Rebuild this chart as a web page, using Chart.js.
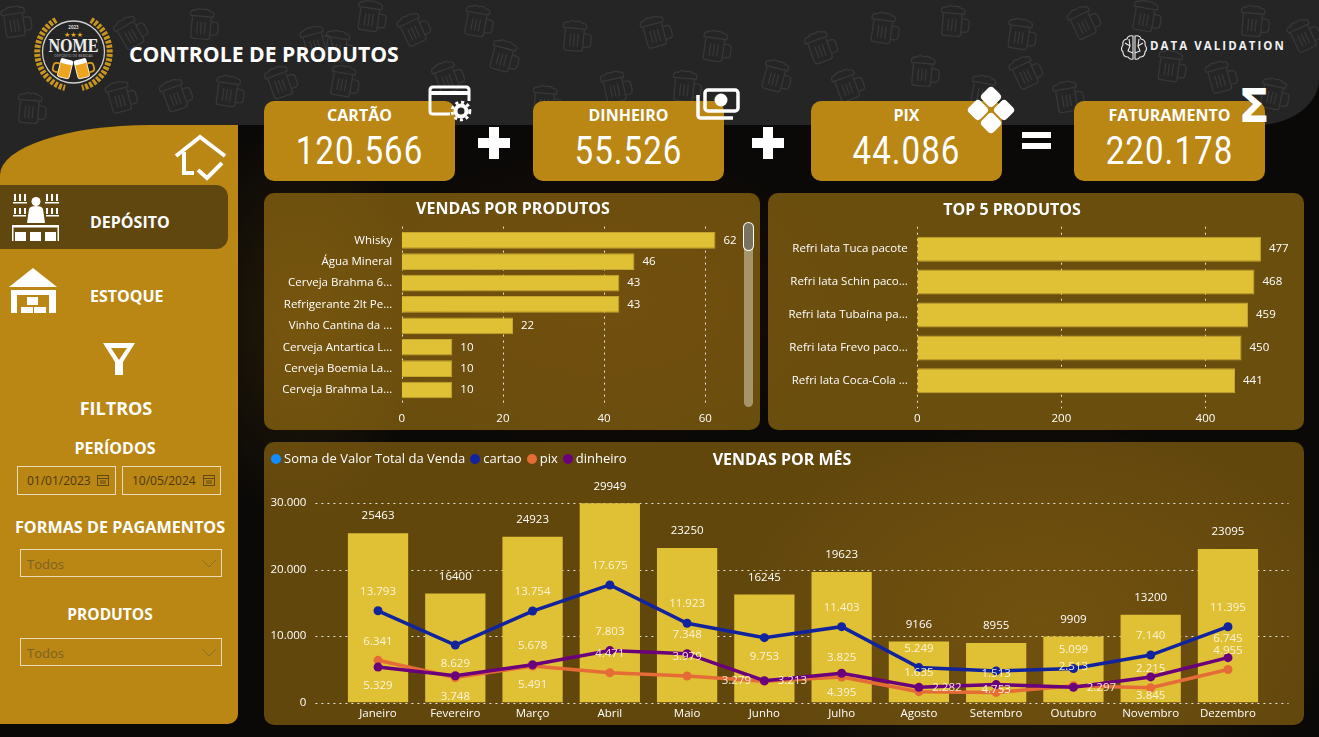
<!DOCTYPE html>
<html lang="pt-BR">
<head>
<meta charset="utf-8">
<title>Controle de Produtos</title>
<script src="https://cdn.jsdelivr.net/npm/chart.js@4"></script>
<style>
html, body { margin: 0; padding: 0; }
body {
    width: 1319px; height: 737px; overflow: hidden; position: relative;
    font-family: 'Open Sans', sans-serif; color: #fff;
    background:
        radial-gradient(ellipse 120px 200px at 300px 320px, #241a08 0%, rgba(36,26,8,0) 100%),
        radial-gradient(ellipse 260px 150px at 600px 300px, #1c0d08 0%, rgba(28,13,8,0) 100%),
        radial-gradient(ellipse 300px 200px at 1040px 620px, #2b1e0a 0%, rgba(43,30,10,0) 100%),
        #0b0907;
}
.abs { position: absolute; }
#header { left: 0; top: 0; width: 1319px; height: 125px; background: #252525; border-bottom-right-radius: 62px 46px; }
#headerLeft { left: 0; top: 125px; width: 238px; height: 60px; background: #252525; }
#mugs { left: 0; top: 0; }
#sidebar { left: 0; top: 125px; width: 238px; height: 599px; background: #ba8614; border-top-left-radius: 150px 50px; border-bottom-right-radius: 10px; }
#active { left: 0; top: 185px; width: 228px; height: 64px; background: #60460f; border-radius: 0 12px 12px 0; }
.kpi { top: 101px; width: 191px; height: 80px; background: #ba8614; border-radius: 10px; text-align: center; }
.kpi b { display: block; font-size: 16px; line-height: 20px; margin-top: 4px; }
.kpi span { display: block; font-family: Roboto, sans-serif; font-size: 38px; line-height: 42px; letter-spacing: 1.2px; margin-top: 5px; transform: scaleX(0.87); }
.panel { background: rgba(186,134,20,0.5); border-radius: 10px; }
.panel.upper { background: rgba(186,134,20,0.55); }
.ttl { font-weight: 700; font-size: 16px; line-height: 20px; white-space: nowrap; transform: translateX(-50%); }
.side { font-weight: 700; white-space: nowrap; line-height: 20px; }
.ctr { transform: translateX(-50%); }
.field { box-sizing: border-box; border: 1px solid #e9dcb8; height: 29px; }
.field span { position: absolute; top: 6px; font-size: 12px; line-height: 16px; color: #4c3a0c; white-space: nowrap; }
.field.dd { height: 28px; }
.field.dd span { color: #7c6125; font-size: 13px; top: 6px; left: 6px; }
.field svg { position: absolute; }
canvas { position: absolute; }
#legend { left: 271px; top: 449px; display: flex; font-size: 13px; line-height: 18px; white-space: nowrap; }
#legend i { display: inline-block; width: 10px; height: 10px; border-radius: 50%; margin-right: 3px; vertical-align: -0.5px; }
#legend div { margin-right: 5px; }
#scrollTrack { left: 744px; top: 223px; width: 9px; height: 184px; border-radius: 5px; background: rgba(205,195,170,0.6); }
#scrollThumb { left: 744px; top: 223px; width: 9px; height: 27px; border-radius: 5px; background: #7a715e; box-shadow: 0 0 0 1px #fff; }
#dv { left: 1150px; top: 38px; font-size: 11.5px; font-weight: 700; letter-spacing: 2.05px; line-height: 16px; white-space: nowrap; color: #f0f0f0; }
</style>
</head>
<body>
<div class="abs" id="header"></div>
<div class="abs" id="headerLeft"></div>
<svg class="abs" id="mugs" width="1319" height="180">
    <defs>
        <symbol id="mug" viewBox="0 0 36 36" overflow="visible">
            <g fill="none" stroke="#373737" stroke-width="1.4">
                <path d="M5 10v20q0 3 3 3h14q3 0 3-3V10"/>
                <path d="M25 14h4q4 0 4 4v6q0 4-4 4h-4"/>
                <path d="M3 9q-2-6 5-6 3-3 7-1 5-2 8 1 6 0 4 6z"/>
                <path d="M11 15v13M15 15v13M19 15v13"/>
            </g>
        </symbol>
    </defs>
    <g id="mugSpots"></g>
</svg>
<div class="abs" id="sidebar"></div>
<div class="abs" id="active"></div>

<!-- logo -->
<svg class="abs" style="left:25px;top:14px" width="95" height="85" viewBox="0 0 95 85">
    <g fill="none" stroke="#c8961e" stroke-width="6" stroke-dasharray="3 1.5">
        <path d="M31 6A37 37 0 0 0 40 74"/>
        <path d="M66 6A37 37 0 0 1 57 74"/>
    </g>
    <circle cx="48.5" cy="38" r="31" fill="#252525" stroke="#cfcfcf" stroke-width="1.3"/>
    <text x="48.5" y="14.5" font-size="4.5" font-weight="700" fill="#ddd" text-anchor="middle" font-family="Open Sans">2023</text>
    <text x="48.5" y="23" font-size="7" fill="#e0a81e" text-anchor="middle" font-family="DejaVu Sans">★★★</text>
    <text x="48.5" y="38" font-size="18" font-weight="700" fill="#ececec" text-anchor="middle" font-family="Liberation Serif" textLength="50" lengthAdjust="spacingAndGlyphs">NOME</text>
    <text x="48.5" y="43" font-size="3.6" fill="#aaa" text-anchor="middle" font-family="Open Sans">DEPÓSITO DE BEBIDAS</text>
    <g transform="rotate(14 40 55)"><rect x="34" y="47" width="12" height="17" rx="2" fill="#eda41e" stroke="#fff" stroke-width=".8"/><rect x="33.5" y="45" width="13" height="5" rx="2" fill="#fff"/><path d="M34 51h-3q-3 0-3 3v3q0 3 3 3h3" fill="none" stroke="#d89a1e" stroke-width="1.8"/></g>
    <g transform="rotate(-14 57 55)"><rect x="51" y="47" width="12" height="17" rx="2" fill="#eda41e" stroke="#fff" stroke-width=".8"/><rect x="50.5" y="45" width="13" height="5" rx="2" fill="#fff"/><path d="M63 51h3q3 0 3 3v3q0 3-3 3h-3" fill="none" stroke="#d89a1e" stroke-width="1.8"/></g>
</svg>
<div class="abs" style="left:129px;top:39px;font-size:21.2px;font-weight:700;line-height:30px;white-space:nowrap">CONTROLE DE PRODUTOS</div>

<!-- data validation -->
<svg class="abs" style="left:1120px;top:34px" width="28" height="28" viewBox="0 0 28 28" fill="none" stroke="#eee" stroke-width="1.1">
    <path d="M13 2q-5-1-6 3-5 1-4 6-3 4 0 7 0 5 5 5 2 3 5 2zM15 2q5-1 6 3 5 1 4 6 3 4 0 7 0 5-5 5-2 3-5 2z"/>
    <path d="M5 9l5 3-2 5 5 2M9 5l1 7M23 9l-5 3 2 5-5 2M19 5l-1 7"/>
</svg>
<div class="abs" id="dv">DATA VALIDATION</div>

<!-- kpi -->
<div class="abs kpi" style="left:264px"><b>CARTÃO</b><span>120.566</span></div>
<div class="abs kpi" style="left:533px"><b>DINHEIRO</b><span>55.526</span></div>
<div class="abs kpi" style="left:811px"><b>PIX</b><span>44.086</span></div>
<div class="abs kpi" style="left:1074px"><b>FATURAMENTO</b><span>220.178</span></div>
<svg class="abs" style="left:0;top:0" width="1319" height="190" fill="#fff">
    <path d="M489 127h10v11h11v10h-11v11h-10v-11h-11v-10h11z"/>
    <path d="M763 127h10v11h11v10h-11v11h-10v-11h-11v-10h11z"/>
    <rect x="1022" y="132" width="29" height="6"/><rect x="1022" y="143" width="29" height="6"/>
    <!-- card with gear -->
    <path d="M450 114h-17q-3 0-3-3V90q0-3 3-3h33q3 0 3 3v11" fill="none" stroke="#fff" stroke-width="3"/>
    <rect x="431" y="91" width="37" height="4"/>
    <circle cx="461" cy="111" r="5.5" fill="none" stroke="#fff" stroke-width="4"/>
    <circle cx="461" cy="111" r="8.8" fill="none" stroke="#fff" stroke-width="3" stroke-dasharray="3 2.9"/>
    <!-- money -->
    <path d="M698 95v20q0 3 3 3h32" fill="none" stroke="#fff" stroke-width="3.5"/>
    <rect x="705" y="90" width="33" height="21" rx="3" fill="none" stroke="#fff" stroke-width="3.5"/>
    <circle cx="721" cy="100" r="6.5"/>
    <!-- pix -->
    <g transform="rotate(45 991 110)">
        <rect x="973.5" y="92.5" width="16.5" height="16.5" rx="4"/><rect x="992" y="92.5" width="16.5" height="16.5" rx="4"/>
        <rect x="973.5" y="111" width="16.5" height="16.5" rx="4"/><rect x="992" y="111" width="16.5" height="16.5" rx="4"/>
    </g>
    <text x="1254" y="122" font-size="46" font-weight="700" text-anchor="middle" font-family="DejaVu Sans">Σ</text>
</svg>

<!-- sidebar icons and text -->
<svg class="abs" style="left:0;top:130px" width="238" height="250" fill="#fff">
    <path d="M176 26L200 7l25 19M184 22v21h10M198 40l9 8 15-15" fill="none" stroke="#fff" stroke-width="4"/>
    <!-- bartender -->
    <circle cx="36" cy="71.5" r="4.5"/>
    <path d="M27 93l2-14q1-3 7-3t7 3l2 14z"/>
    <path d="M13 72h14v1.5H13zM45 72h14v1.5H45zM13 85h13v1.5H13zM46 85h13v1.5H46z"/>
    <path d="M15 71v-7M20 71v-7M25 71v-7M47 71v-7M52 71v-7M57 71v-7M15 84v-6M20 84v-6M25 84v-6M47 84v-6M52 84v-6M57 84v-6" stroke="#fff" stroke-width="2"/>
    <rect x="12" y="95" width="47" height="2.5"/>
    <path d="M12 97h1.5v14H12zM57.500 97H59v14h-1.500z"/>
    <rect x="15" y="102" width="11" height="9"/><rect x="30" y="102" width="11" height="9"/><rect x="45" y="102" width="11" height="9"/>
    <!-- warehouse -->
    <path d="M33 138l24 19h-48z"/>
    <path d="M11 160h45v23h-7v-18H17v18h-6z"/>
    <rect x="27" y="167" width="11" height="8"/><rect x="21" y="177" width="12" height="6"/><rect x="34" y="177" width="12" height="6"/>
    <!-- filter -->
    <path d="M103 213h32l-12 19v13h-8v-13zm8 5l8 12 8-12z" fill-rule="evenodd"/>
</svg>
<div class="abs side" style="left:90px;top:212px;font-size:16px">DEPÓSITO</div>
<div class="abs side" style="left:90px;top:286px;font-size:16px">ESTOQUE</div>
<div class="abs side ctr" style="left:116px;top:398px;font-size:18px">FILTROS</div>
<div class="abs side ctr" style="left:115px;top:438px;font-size:16px">PERÍODOS</div>
<div class="abs field" style="left:17px;top:466px;width:99px"><span style="left:9px">01/01/2023</span><svg style="left:79px;top:7px" width="12" height="12" fill="none" stroke="#604a14"><rect x=".5" y="1.5" width="11" height="10"/><path d="M1 4.5h10M3 7h6M3 9h6"/></svg></div>
<div class="abs field" style="left:122px;top:466px;width:99px"><span style="left:9px">10/05/2024</span><svg style="left:80px;top:7px" width="12" height="12" fill="none" stroke="#604a14"><rect x=".5" y="1.5" width="11" height="10"/><path d="M1 4.5h10M3 7h6M3 9h6"/></svg></div>
<div class="abs side ctr" style="left:120px;top:517px;font-size:16.2px">FORMAS DE PAGAMENTOS</div>
<div class="abs field dd" style="left:20px;top:549px;width:202px"><span>Todos</span><svg style="left:180px;top:9px" width="16" height="9" fill="none" stroke="#8a6e2a"><path d="M1 1l7 7 7-7"/></svg></div>
<div class="abs side ctr" style="left:110px;top:604px;font-size:15.5px">PRODUTOS</div>
<div class="abs field dd" style="left:20px;top:638px;width:202px"><span>Todos</span><svg style="left:180px;top:9px" width="16" height="9" fill="none" stroke="#8a6e2a"><path d="M1 1l7 7 7-7"/></svg></div>

<!-- panels -->
<div class="abs panel upper" style="left:264px;top:193px;width:496px;height:237px"></div>
<div class="abs panel upper" style="left:768px;top:193px;width:536px;height:237px"></div>
<div class="abs panel" style="left:264px;top:442px;width:1040px;height:283px"></div>
<canvas id="produtos" style="left:264px;top:193px"></canvas>
<canvas id="top5" style="left:768px;top:193px"></canvas>
<canvas id="meses" style="left:264px;top:442px"></canvas>
<div class="abs ttl" style="left:513px;top:198px">VENDAS POR PRODUTOS</div>
<div class="abs ttl" style="left:1012px;top:199px">TOP 5 PRODUTOS</div>
<div class="abs ttl" style="left:782px;top:449px">VENDAS POR MÊS</div>
<div class="abs" id="legend"></div>
<div class="abs" id="scrollTrack"></div>
<div class="abs" id="scrollThumb"></div>

<script>
const productNames = ['Whisky', 'Água Mineral', 'Cerveja Brahma 6...', 'Refrigerante 2lt Pe...', 'Vinho Cantina da ...', 'Cerveja Antartica L...', 'Cerveja Boemia La...', 'Cerveja Brahma La...'];
const productSales = [62, 46, 43, 43, 22, 10, 10, 10];

const topNames = ['Refri lata Tuca pacote', 'Refri lata Schin paco...', 'Refri lata Tubaína pa...', 'Refri lata Frevo paco...', 'Refri lata Coca-Cola ...'];
const topSales = [477, 468, 459, 450, 441];

const months = ['Janeiro', 'Fevereiro', 'Março', 'Abril', 'Maio', 'Junho', 'Julho', 'Agosto', 'Setembro', 'Outubro', 'Novembro', 'Dezembro'];
const totalSales = [25463, 16400, 24923, 29949, 23250, 16245, 19623, 9166, 8955, 9909, 13200, 23095];
const cartao = [13793, 8629, 13754, 17675, 11923, 9753, 11403, 5249, 4753, 5099, 7140, 11395];
const pix = [6341, 3748, 5491, 4471, 3979, 3213, 3825, 1635, 1513, 2513, 2215, 4955];
const dinheiro = [5329, 4023, 5678, 7803, 7348, 3279, 4395, 2282, 2689, 2297, 3845, 6745];

// side of the point each value label sits on, a = above, b = below, l = left, r = right, empty = hidden
const cartaoSides = ['a', 'b', 'a', 'a', 'a', 'b', 'a', 'a', 'b', 'a', 'a', 'a'];
const pixSides = ['a', 'b', 'b', 'a', 'a', 'r', 'a', 'a', 'a', 'a', 'a', 'a'];
const dinheiroSides = ['b', '', 'a', 'a', 'a', 'l', 'b', 'r', '', 'r', 'b', 'a'];

const legendNames = ['Soma de Valor Total da Venda', 'cartao', 'pix', 'dinheiro'];
const legendColors = ['#118dff', '#12239e', '#e66c37', '#6b007b'];

const barColor = '#e0c034';
const fontFamily = "'Open Sans', sans-serif";
const textColor = '#ffffff';

const ptBR = (value) => value.toLocaleString('pt-BR');

// dotted grid drawn behind the bars, it runs past the chart area like the original
const dottedGrid = {
    id: 'dottedGrid',
    beforeDatasetsDraw(chart, args, opts) {
        const ctx = chart.ctx;
        const area = chart.chartArea;
        const scale = chart.scales[opts.axis];
        ctx.save();
        ctx.strokeStyle = 'rgba(255,255,255,0.85)';
        ctx.lineWidth = 1;
        ctx.setLineDash([2, 4]);
        for(const tick of scale.ticks) {
            const pos = Math.round(scale.getPixelForValue(tick.value)) + 0.5;
            ctx.beginPath();
            if(opts.axis === 'y') {
                ctx.moveTo(area.left - opts.before, pos);
                ctx.lineTo(area.right + opts.after, pos);
            }
            else {
                ctx.moveTo(pos, area.top - opts.before);
                ctx.lineTo(pos, area.bottom + opts.after);
            }
            ctx.stroke();
        }
        ctx.restore();
    }
};

// value labels at the end of horizontal bars
const barEndLabels = {
    id: 'barEndLabels',
    afterDatasetsDraw(chart) {
        const ctx = chart.ctx;
        const meta = chart.getDatasetMeta(0);
        ctx.save();
        ctx.font = '11.5px ' + fontFamily;
        ctx.fillStyle = textColor;
        ctx.textBaseline = 'middle';
        meta.data.forEach((bar, i) => {
            ctx.fillText(chart.data.datasets[0].data[i], bar.x + 8, bar.y);
        });
        ctx.restore();
    }
};

// labels of the month chart: totals on top of the bars, line values around the points
const monthLabels = {
    id: 'monthLabels',
    afterDatasetsDraw(chart) {
        const ctx = chart.ctx;
        ctx.save();
        ctx.font = '11.5px ' + fontFamily;
        ctx.textAlign = 'center';
        ctx.textBaseline = 'middle';
        chart.getDatasetMeta(0).data.forEach((bar, i) => {
            ctx.fillStyle = textColor;
            ctx.fillText(totalSales[i], bar.x, bar.y - 17);
        });
        ctx.fillStyle = 'rgba(255,250,235,0.9)';
        [[1, cartaoSides], [2, pixSides], [3, dinheiroSides]].forEach(([index, sides]) => {
            chart.getDatasetMeta(index).data.forEach((point, i) => {
                const side = sides[i];
                if(!side)
                    return;
                const value = ptBR(chart.data.datasets[index].data[i]);
                const dx = side === 'l' ? -28 : side === 'r' ? 28 : 0;
                const dy = side === 'a' ? -19 : side === 'b' ? 19 : 0;
                ctx.fillText(value, point.x + dx, point.y + dy);
            });
        });
        ctx.restore();
    }
};

const axisFont = { family: fontFamily, size: 11.5 };

Chart.defaults.animation = false;
Chart.defaults.responsive = false;
Chart.defaults.color = textColor;
Chart.defaults.font.family = fontFamily;

function hBarChart(id, width, height, names, values, opts) {
    const canvas = document.getElementById(id);
    canvas.width = width;
    canvas.height = height;
    return new Chart(canvas, {
        type: 'bar',
        data: {
            labels: names,
            datasets: [{ data: values, backgroundColor: barColor, borderColor: '#c4a530', borderWidth: 1, barPercentage: opts.barShare, categoryPercentage: 1 }]
        },
        options: {
            indexAxis: 'y',
            layout: { padding: { top: opts.top, right: opts.right } },
            plugins: {
                legend: { display: false },
                tooltip: { enabled: false },
                dottedGrid: { axis: 'x', before: opts.gridBefore, after: opts.gridAfter }
            },
            scales: {
                x: {
                    min: 0,
                    max: opts.max,
                    grid: { display: false, drawTicks: false },
                    border: { display: false },
                    ticks: { stepSize: opts.step, includeBounds: false, font: axisFont, padding: opts.tickGap, maxRotation: 0 },
                    afterFit: (scale) => { scale.height = opts.xHeight; }
                },
                y: {
                    grid: { display: false, drawTicks: false },
                    border: { display: false },
                    ticks: { autoSkip: false, font: axisFont, padding: 9.5 },
                    afterFit: (scale) => { scale.width = opts.yWidth; }
                }
            }
        },
        plugins: [dottedGrid, barEndLabels]
    });
}

hBarChart('produtos', 496, 237, productNames, productSales, {
    top: 36.6, right: 14.2, max: 68, step: 20, xHeight: 29.3, yWidth: 137.7, tickGap: 11, gridBefore: 3, gridAfter: 6, barShare: 0.78
});
hBarChart('top5', 536, 237, topNames, topSales, {
    top: 39.75, right: 13.5, max: 518, step: 200, xHeight: 32.7, yWidth: 149.3, tickGap: 15, gridBefore: 6, gridAfter: 11, barShare: 0.76
});

const mesesCanvas = document.getElementById('meses');
mesesCanvas.width = 1040;
mesesCanvas.height = 283;

const lineDataset = (label, data, color, order) => ({
    type: 'line',
    label: label,
    data: data,
    borderColor: color,
    backgroundColor: color,
    borderWidth: 3.5,
    pointRadius: 4.5,
    pointBackgroundColor: color,
    pointBorderWidth: 0,
    tension: 0,
    order: order
});

new Chart(mesesCanvas, {
    type: 'bar',
    data: {
        labels: months,
        datasets: [
            { label: legendNames[0], data: totalSales, backgroundColor: barColor, barPercentage: 0.78, categoryPercentage: 1, order: 3 },
            lineDataset(legendNames[1], cartao, legendColors[1], 0),
            lineDataset(legendNames[2], pix, legendColors[2], 2),
            lineDataset(legendNames[3], dinheiro, legendColors[3], 1)
        ]
    },
    options: {
        layout: { padding: { top: 61, right: 37.4 } },
        plugins: {
            legend: { display: false },
            tooltip: { enabled: false },
            dottedGrid: { axis: 'y', before: 24, after: 22 }
        },
        scales: {
            x: {
                grid: { display: false, drawTicks: false },
                border: { display: false },
                ticks: { font: axisFont, padding: 4.6, maxRotation: 0, autoSkip: false },
                afterFit: (scale) => { scale.height = 22.5; }
            },
            y: {
                min: 0,
                max: 30000,
                grid: { display: false, drawTicks: false },
                border: { display: false },
                ticks: { stepSize: 10000, font: axisFont, padding: 33, callback: (value) => ptBR(value) },
                afterFit: (scale) => {
                    scale.width = 75.4;
                    // the big tick padding would otherwise push the chart bottom up
                    scale.paddingTop = 0;
                    scale.paddingBottom = 0;
                }
            }
        }
    },
    plugins: [dottedGrid, monthLabels]
});

const legendBox = document.getElementById('legend');
legendNames.forEach((name, i) => {
    const item = document.createElement('div');
    const dot = document.createElement('i');
    dot.style.background = legendColors[i];
    item.appendChild(dot);
    item.appendChild(document.createTextNode(name));
    legendBox.appendChild(item);
});

// beer mugs of the header background
const mugSpots = [[0, 5, -8], [115, 15, -30], [187, 8, 5], [300, 25, -15], [322, 30, 10], [355, 0, 8], [398, 12, -25], [462, 5, 10], [15, 92, 5], [105, 80, -15], [160, 78, -20], [213, 75, 8], [265, 65, -20], [328, 65, 10], [432, 60, -20], [488, 40, 15],
    [805, 30, -20], [868, 12, 8], [938, 5, 5], [1005, 18, 8], [1068, 5, -25], [1130, 0, 10], [1238, 5, 5], [1288, 18, -25], [832, 68, -20], [908, 55, 5], [968, 75, 10], [1010, 55, -25], [1052, 80, -10], [1155, 50, 8], [1205, 60, -15], [1258, 78, 12], [560, 20, 5], [640, 15, -15], [700, 30, 8], [600, 70, -12], [760, 60, 15], [530, 85, 5], [670, 70, 5]];
const mugGroup = document.getElementById('mugSpots');
for(const [x, y, angle] of mugSpots) {
    const use = document.createElementNS('http://www.w3.org/2000/svg', 'use');
    use.setAttribute('href', '#mug');
    use.setAttribute('x', x);
    use.setAttribute('y', y);
    use.setAttribute('width', 34);
    use.setAttribute('height', 34);
    use.setAttribute('transform', `rotate(${angle} ${x + 17} ${y + 17})`);
    mugGroup.appendChild(use);
}
</script>
</body>
</html>
